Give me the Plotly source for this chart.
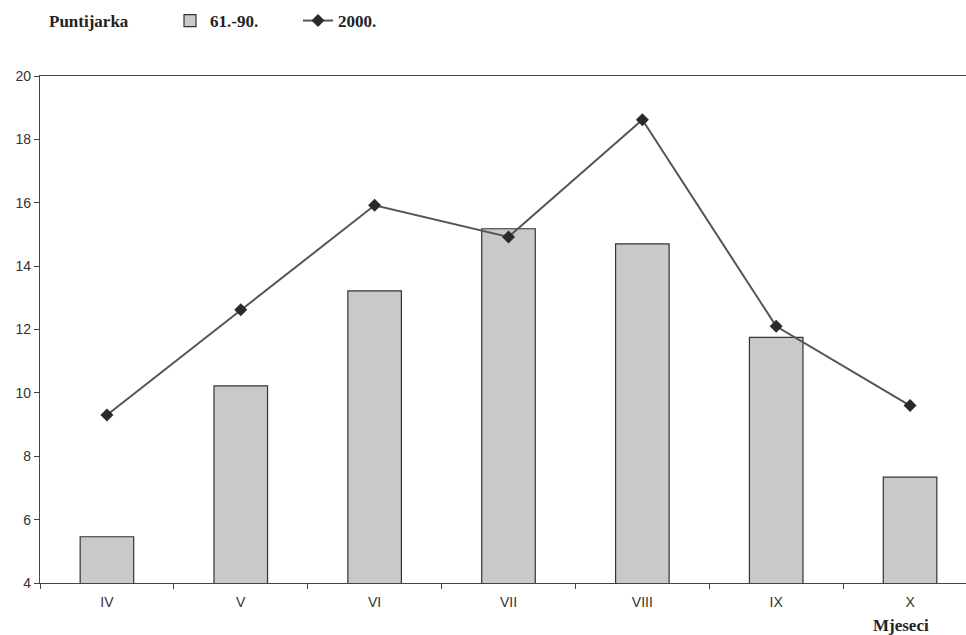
import plotly.graph_objects as go

months = ["IV", "V", "VI", "VII", "VIII", "IX", "X"]
normal_6190 = [5.46, 10.22, 13.22, 15.18, 14.7, 11.75, 7.34]
year_2000 = [9.3, 12.62, 15.92, 14.92, 18.62, 12.1, 9.6]

serif = "Liberation Serif, Times New Roman, serif"
sans = "Liberation Sans, Arial, sans-serif"

fig = go.Figure()
fig.add_trace(go.Bar(
    x=months, y=normal_6190, name="61.-90.",
    marker=dict(color="#c8c9cb", line=dict(color="#333333", width=1.2)),
))
fig.add_trace(go.Scatter(
    x=months, y=year_2000, name="2000.", mode="lines+markers",
    line=dict(color="#555555", width=2),
    marker=dict(symbol="diamond", size=10, color="#2a2a2a"),
))

fig.update_layout(
    width=966, height=635,
    margin=dict(l=40, r=0, t=76, b=52),
    plot_bgcolor="white", paper_bgcolor="white",
    bargap=0.6,
    showlegend=True,
    legend=dict(
        orientation="h", xref="container", yref="container",
        x=170 / 966, xanchor="left", y=1 - 3 / 635, yanchor="top",
        font=dict(family=serif, size=17, color="#222222", weight="bold"),
        itemwidth=30, entrywidth=83,
        bgcolor="rgba(0,0,0,0)",
    ),
    xaxis=dict(
        type="category", range=[-0.5, 6.5 - 11 / 134],
        showline=True, linecolor="#444444", linewidth=1.2, mirror=True,
        ticks="outside", ticklen=5, tickcolor="#444444", tickson="boundaries",
        showgrid=False, ticklabelstandoff=6,
        tickfont=dict(family=sans, size=14, color="#333333"),
    ),
    yaxis=dict(
        range=[4, 20], dtick=2, tick0=4,
        showline=True, linecolor="#444444", linewidth=1.2,
        ticks="outside", ticklen=5, tickcolor="#444444",
        showgrid=False, zeroline=False,
        tickfont=dict(family=sans, size=14, color="#333333"),
    ),
    annotations=[
        dict(
            text="Mjeseci", xref="paper", yref="paper", x=0.93, y=-0.083,
            xanchor="center", yanchor="middle", showarrow=False,
            font=dict(family=serif, size=17, color="#222222", weight="bold"),
        ),
        dict(
            text="Puntijarka", xref="paper", yref="paper",
            x=(47 - 40) / 926, y=1 + 55 / 507,
            xanchor="left", yanchor="middle", showarrow=False,
            font=dict(family=serif, size=17, color="#222222", weight="bold"),
        ),
    ],
)

fig.write_html("out.html")
